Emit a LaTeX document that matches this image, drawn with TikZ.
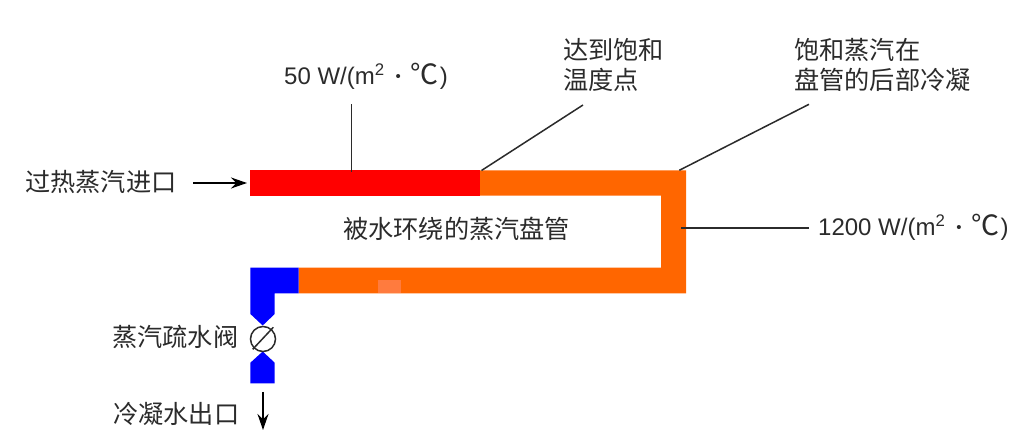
\documentclass[tikz,border=0pt]{standalone}
\usepackage{fontspec}
\setmainfont{Liberation Sans}
\newfontfamily\cjk{Noto Sans CJK SC}
\usetikzlibrary{arrows.meta}
\definecolor{pipered}{HTML}{FF0000}
\definecolor{pipeorange}{HTML}{FF6600}
\definecolor{pipepatch}{HTML}{FF7B3E}
\definecolor{pipeblue}{HTML}{0000FF}
\definecolor{inkdark}{HTML}{2B2B2B}
\newcommand{\unitdot}{\hspace{11pt}\raisebox{3.5pt}{\fontsize{15}{15}\selectfont\textbullet}\hspace{11pt}}
\newcommand{\unitdeg}{\kern-1pt{\cjk\fontsize{28}{30}\selectfont ℃}\kern1pt}
\tikzset{
  zh/.style={inner sep=0pt,anchor=west,align=left,text=inkdark,font=\cjk\fontsize{25.2}{30}\selectfont},
  lat/.style={inner sep=0pt,anchor=base west,text=inkdark,font=\fontsize{24}{30}\selectfont},
  leader/.style={draw=inkdark,line width=1.5pt},
  flow/.style={draw=black,line width=1.8pt,-{Stealth[length=16pt,width=11pt]}},
  pipefill/.style={draw=none,fill=#1},
}
\begin{document}
\begin{tikzpicture}[x=1pt,y=-1pt]
\useasboundingbox (0,0) rectangle (1015,435);
% pipes
\fill[pipefill=pipeorange] (480,170.3) -- (686,170.3) -- (686,293.3) -- (298.7,293.3) -- (298.7,267.7) -- (661,267.7) -- (661,195.7) -- (480,195.7) -- cycle;
\fill[pipefill=pipered] (249.5,170.3) rectangle (480,195.7);
\fill[pipefill=pipepatch] (378,280) rectangle (401,293.5);
\fill[pipefill=pipeblue] (250.4,267.7) -- (298.7,267.7) -- (298.7,293.3) -- (274.7,293.3) -- (274.7,314) -- (262.7,325.5) -- (250.4,314) -- cycle;
\fill[pipefill=pipeblue] (262.7,351.5) -- (274.7,362.7) -- (274.7,383.3) -- (250.4,383.3) -- (250.4,362.7) -- cycle;
% valve
\node[draw=inkdark,fill=white,line width=1.5pt,circle,minimum size=25pt,inner sep=0pt] (valve) at (263,339) {};
\draw[leader] (252.7,349.3) -- (273.3,327.3);
% labels
\node[zh] (inlet) at (25,182) {过热蒸汽进口};
\node[zh] (sat) at (563,65) {达到饱和\\温度点};
\node[zh] (cond) at (794,64.5) {饱和蒸汽在\\盘管的后部冷凝};
\node[zh] (coil) at (343,229) {被水环绕的蒸汽盘管};
\node[zh] (trap) at (112,337) {蒸汽疏水阀};
\node[zh] (outlet) at (113,414) {冷凝水出口};
\node[lat] (lowu) at (284,85) {50 W/(m\textsuperscript{2}\unitdot\unitdeg)};
\node[lat] (highu) at (818,236) {1200 W/(m\textsuperscript{2}\unitdot\unitdeg)};
% connector ends
\coordinate (lowa) at (351.7,104.3);
\coordinate (lowb) at (351.7,172);
\coordinate (sata) at (583,105);
\coordinate (satb) at (481.5,170.5);
\coordinate (conda) at (809,104.3);
\coordinate (condb) at (679.3,170.3);
\coordinate (higha) at (809,228);
\coordinate (highb) at (680.7,228);
\coordinate (ina) at (193,183);
\coordinate (inb) at (247,183);
\coordinate (outa) at (263,392);
\coordinate (outb) at (263,430);
\draw[leader] (lowa) -- (lowb);
\draw[leader] (sata) -- (satb);
\draw[leader] (conda) -- (condb);
\draw[leader] (higha) -- (highb);
\draw[flow] (ina) -- (inb);
\draw[flow] (outa) -- (outb);
\end{tikzpicture}
\end{document}
